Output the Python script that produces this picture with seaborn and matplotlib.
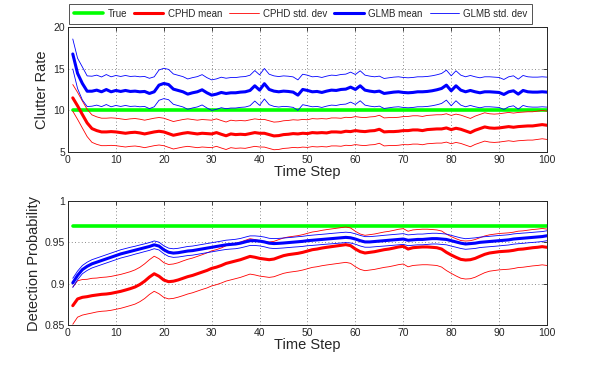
import numpy as np
import pandas as pd
import matplotlib
matplotlib.use("Agg")
import matplotlib.pyplot as plt
import seaborn as sns
from matplotlib.lines import Line2D

# ---------------- data ----------------
time_steps = list(range(1, 101))

true_clutter = 10.0
true_pd = 0.97

clutter_glmb_mean = [
    16.77, 14.44, 13.23, 12.30, 12.30, 12.43, 12.23, 12.50, 12.23, 12.39,
    12.27, 12.39, 12.27, 12.31, 12.23, 12.27, 12.03, 12.23, 13.03, 13.23,
    13.10, 12.55, 12.39, 12.23, 11.95, 12.11, 12.23, 12.47, 12.11, 11.83,
    11.95, 12.15, 12.03, 12.11, 12.11, 12.19, 12.23, 12.39, 12.95, 12.43,
    13.20, 12.51, 12.31, 12.23, 12.31, 12.27, 12.19, 11.83, 12.51, 12.39,
    12.23, 12.27, 12.15, 12.31, 12.43, 12.39, 12.51, 12.55, 12.79, 12.51,
    12.95, 12.43, 12.31, 12.23, 12.31, 12.03, 12.11, 12.19, 12.23, 12.15,
    12.11, 12.15, 12.23, 12.23, 12.27, 12.35, 12.47, 12.63, 13.03, 12.35,
    12.95, 12.43, 12.23, 12.39, 12.23, 12.11, 12.23, 12.23, 12.19, 12.15,
    11.91, 12.23, 12.35, 11.95, 12.39, 12.23, 12.19, 12.19, 12.23, 12.19]
clutter_glmb_std = [
    1.80, 1.82, 1.98, 1.84, 1.80, 1.80, 1.78, 1.80, 1.80, 1.80,
    1.80, 1.80, 1.80, 1.80, 1.80, 1.80, 1.82, 1.80, 1.82, 1.82,
    1.82, 1.82, 1.82, 1.82, 1.82, 1.82, 1.82, 1.82, 1.82, 1.83,
    1.83, 1.83, 1.83, 1.83, 1.83, 1.83, 1.83, 1.83, 1.83, 1.83,
    1.83, 1.83, 1.83, 1.83, 1.83, 1.83, 1.83, 1.83, 1.83, 1.83,
    1.80, 1.80, 1.80, 1.80, 1.80, 1.80, 1.80, 1.80, 1.80, 1.80,
    1.80, 1.80, 1.80, 1.80, 1.80, 1.80, 1.80, 1.80, 1.80, 1.80,
    1.80, 1.80, 1.80, 1.80, 1.80, 1.80, 1.80, 1.80, 1.80, 1.80,
    1.80, 1.80, 1.80, 1.80, 1.80, 1.80, 1.80, 1.80, 1.80, 1.80,
    1.80, 1.80, 1.80, 1.80, 1.80, 1.80, 1.80, 1.80, 1.80, 1.80]

clutter_cphd_mean = [
    11.50, 10.54, 9.50, 8.49, 7.81, 7.57, 7.41, 7.41, 7.45, 7.41,
    7.33, 7.25, 7.33, 7.37, 7.29, 7.17, 7.29, 7.41, 7.49, 7.41,
    7.21, 7.01, 7.13, 7.25, 7.33, 7.25, 7.17, 7.25, 7.21, 7.17,
    7.33, 7.13, 6.95, 7.17, 7.09, 7.13, 7.09, 7.21, 7.33, 7.25,
    7.25, 7.09, 6.93, 6.97, 7.09, 7.13, 7.21, 7.17, 7.25, 7.21,
    7.33, 7.29, 7.33, 7.29, 7.41, 7.41, 7.37, 7.49, 7.45, 7.57,
    7.49, 7.45, 7.53, 7.57, 7.73, 7.41, 7.45, 7.45, 7.49, 7.57,
    7.57, 7.65, 7.65, 7.57, 7.69, 7.73, 7.77, 7.77, 7.89, 7.69,
    7.85, 7.73, 7.53, 7.33, 7.61, 7.81, 8.01, 7.89, 7.85, 7.89,
    7.97, 8.05, 7.97, 8.05, 8.09, 8.13, 8.13, 8.21, 8.29, 8.21]
clutter_cphd_std = [
    1.60, 1.62, 1.62, 1.64, 1.65, 1.65, 1.65, 1.65, 1.65, 1.65,
    1.65, 1.65, 1.65, 1.65, 1.65, 1.65, 1.65, 1.65, 1.65, 1.65,
    1.65, 1.65, 1.65, 1.65, 1.65, 1.65, 1.65, 1.65, 1.65, 1.65,
    1.65, 1.65, 1.65, 1.65, 1.65, 1.65, 1.65, 1.65, 1.65, 1.65,
    1.66, 1.66, 1.66, 1.66, 1.66, 1.66, 1.66, 1.66, 1.66, 1.66,
    1.68, 1.68, 1.68, 1.68, 1.68, 1.68, 1.68, 1.68, 1.68, 1.68,
    1.68, 1.68, 1.68, 1.68, 1.68, 1.68, 1.68, 1.68, 1.68, 1.68,
    1.70, 1.70, 1.70, 1.70, 1.70, 1.70, 1.70, 1.70, 1.70, 1.70,
    1.70, 1.70, 1.70, 1.70, 1.70, 1.70, 1.70, 1.70, 1.70, 1.70,
    1.70, 1.70, 1.70, 1.70, 1.70, 1.70, 1.70, 1.70, 1.70, 1.70]

pd_glmb_mean = [
    0.9010, 0.9100, 0.9170, 0.9210, 0.9240, 0.9260, 0.9280, 0.9300, 0.9320, 0.9340,
    0.9360, 0.9375, 0.9390, 0.9405, 0.9420, 0.9435, 0.9450, 0.9470, 0.9455, 0.9410,
    0.9380, 0.9370, 0.9375, 0.9385, 0.9395, 0.9400, 0.9410, 0.9420, 0.9430, 0.9440,
    0.9450, 0.9460, 0.9470, 0.9475, 0.9480, 0.9490, 0.9505, 0.9520, 0.9520, 0.9515,
    0.9505, 0.9490, 0.9485, 0.9488, 0.9492, 0.9497, 0.9502, 0.9507, 0.9512, 0.9520,
    0.9525, 0.9530, 0.9535, 0.9540, 0.9545, 0.9550, 0.9555, 0.9560, 0.9555, 0.9540,
    0.9520, 0.9505, 0.9505, 0.9510, 0.9515, 0.9520, 0.9525, 0.9530, 0.9535, 0.9540,
    0.9525, 0.9530, 0.9535, 0.9535, 0.9540, 0.9545, 0.9545, 0.9540, 0.9535, 0.9520,
    0.9505, 0.9490, 0.9480, 0.9485, 0.9490, 0.9500, 0.9505, 0.9510, 0.9515, 0.9520,
    0.9525, 0.9530, 0.9540, 0.9545, 0.9550, 0.9555, 0.9560, 0.9565, 0.9570, 0.9580]
pd_glmb_std = [
    0.0055, 0.0052, 0.0050, 0.0050, 0.0050, 0.0050, 0.0050, 0.0050, 0.0050, 0.0050,
    0.0050, 0.0050, 0.0050, 0.0048, 0.0048, 0.0047, 0.0047, 0.0047, 0.0047, 0.0048,
    0.0050, 0.0052, 0.0053, 0.0054, 0.0055, 0.0055, 0.0055, 0.0055, 0.0055, 0.0055,
    0.0055, 0.0055, 0.0056, 0.0056, 0.0057, 0.0057, 0.0058, 0.0058, 0.0058, 0.0058,
    0.0059, 0.0059, 0.0060, 0.0060, 0.0060, 0.0060, 0.0060, 0.0061, 0.0061, 0.0061,
    0.0062, 0.0062, 0.0062, 0.0062, 0.0063, 0.0063, 0.0063, 0.0063, 0.0063, 0.0063,
    0.0064, 0.0064, 0.0064, 0.0064, 0.0064, 0.0065, 0.0065, 0.0065, 0.0065, 0.0065,
    0.0065, 0.0065, 0.0065, 0.0065, 0.0065, 0.0065, 0.0065, 0.0065, 0.0065, 0.0065,
    0.0064, 0.0064, 0.0064, 0.0064, 0.0064, 0.0063, 0.0063, 0.0063, 0.0063, 0.0063,
    0.0062, 0.0062, 0.0062, 0.0062, 0.0062, 0.0061, 0.0061, 0.0061, 0.0060, 0.0060]

pd_cphd_mean = [
    0.8734, 0.8815, 0.8835, 0.8843, 0.8855, 0.8863, 0.8871, 0.8875, 0.8883, 0.8895,
    0.8907, 0.8923, 0.8940, 0.8960, 0.8990, 0.9030, 0.9080, 0.9120, 0.9090, 0.9044,
    0.9024, 0.9030, 0.9045, 0.9065, 0.9085, 0.9100, 0.9120, 0.9140, 0.9160, 0.9185,
    0.9200, 0.9220, 0.9245, 0.9260, 0.9275, 0.9290, 0.9310, 0.9330, 0.9320, 0.9306,
    0.9298, 0.9290, 0.9298, 0.9319, 0.9339, 0.9351, 0.9359, 0.9367, 0.9379, 0.9395,
    0.9411, 0.9419, 0.9431, 0.9440, 0.9448, 0.9456, 0.9464, 0.9472, 0.9460, 0.9419,
    0.9387, 0.9371, 0.9379, 0.9387, 0.9399, 0.9411, 0.9419, 0.9431, 0.9444, 0.9452,
    0.9419, 0.9435, 0.9440, 0.9444, 0.9444, 0.9440, 0.9435, 0.9419, 0.9379, 0.9347,
    0.9319, 0.9294, 0.9286, 0.9290, 0.9306, 0.9331, 0.9355, 0.9371, 0.9379, 0.9387,
    0.9391, 0.9395, 0.9403, 0.9415, 0.9419, 0.9427, 0.9435, 0.9440, 0.9448, 0.9440]
pd_cphd_std = [
    0.0225, 0.0220, 0.0215, 0.0210, 0.0210, 0.0205, 0.0205, 0.0205, 0.0205, 0.0205,
    0.0205, 0.0205, 0.0205, 0.0207, 0.0208, 0.0210, 0.0210, 0.0212, 0.0212, 0.0210,
    0.0208, 0.0208, 0.0208, 0.0210, 0.0210, 0.0210, 0.0210, 0.0210, 0.0212, 0.0212,
    0.0212, 0.0212, 0.0214, 0.0214, 0.0214, 0.0214, 0.0214, 0.0214, 0.0214, 0.0214,
    0.0214, 0.0214, 0.0214, 0.0214, 0.0214, 0.0214, 0.0214, 0.0214, 0.0214, 0.0214,
    0.0214, 0.0214, 0.0214, 0.0214, 0.0214, 0.0214, 0.0214, 0.0214, 0.0214, 0.0214,
    0.0214, 0.0214, 0.0214, 0.0214, 0.0214, 0.0214, 0.0214, 0.0214, 0.0214, 0.0214,
    0.0215, 0.0215, 0.0215, 0.0215, 0.0215, 0.0215, 0.0215, 0.0218, 0.0220, 0.0222,
    0.0225, 0.0228, 0.0230, 0.0230, 0.0228, 0.0225, 0.0222, 0.0220, 0.0220, 0.0220,
    0.0220, 0.0220, 0.0220, 0.0220, 0.0220, 0.0220, 0.0220, 0.0220, 0.0220, 0.0220]

legend_labels = ["True", "CPHD mean", "CPHD std. dev", "GLMB mean", "GLMB std. dev"]

# ---------------- style ----------------
sns.set_style("white")
plt.rcParams["font.family"] = ["Liberation Sans", "DejaVu Sans"]

RED = "#ff0000"
BLUE = "#0000ff"
GREEN = "#00ff00"
THICK = 2.2
THIN = 0.6

fig = plt.figure(figsize=(5.98, 3.66), dpi=100)
ax1 = fig.add_axes([0.1137, 0.5847, 0.801, 0.3413])
ax2 = fig.add_axes([0.1137, 0.1120, 0.801, 0.3388])

t = np.array(time_steps)


def draw_panel(ax, true_val, cphd_m, cphd_s, glmb_m, glmb_s):
    cphd_m = np.array(cphd_m); cphd_s = np.array(cphd_s)
    glmb_m = np.array(glmb_m); glmb_s = np.array(glmb_s)
    sns.lineplot(x=t, y=np.full(len(t), true_val), ax=ax, color=GREEN, lw=2.6, zorder=3)
    sns.lineplot(x=t, y=cphd_m, ax=ax, color=RED, lw=THICK, zorder=4)
    sns.lineplot(x=t, y=cphd_m + cphd_s, ax=ax, color=RED, lw=THIN, zorder=4)
    sns.lineplot(x=t, y=cphd_m - cphd_s, ax=ax, color=RED, lw=THIN, zorder=4)
    sns.lineplot(x=t, y=glmb_m, ax=ax, color=BLUE, lw=THICK, zorder=5)
    sns.lineplot(x=t, y=glmb_m + glmb_s, ax=ax, color=BLUE, lw=THIN, zorder=5)
    sns.lineplot(x=t, y=glmb_m - glmb_s, ax=ax, color=BLUE, lw=THIN, zorder=5)
    ax.set_xlim(0, 100)
    ax.set_xticks(range(0, 101, 10))
    ax.grid(True, linestyle=(0, (1, 3)), color="#666666", lw=0.6)
    ax.set_axisbelow(True)
    ax.tick_params(direction="in", length=3, width=0.6, labelsize=7.5,
                   top=True, right=True, pad=2, colors="#262626")
    for sp in ax.spines.values():
        sp.set_color("#262626")
        sp.set_linewidth(0.7)
    ax.set_xlabel("Time Step", fontsize=10.5, labelpad=0)


draw_panel(ax1, true_clutter, clutter_cphd_mean, clutter_cphd_std,
           clutter_glmb_mean, clutter_glmb_std)
ax1.set_ylim(5, 20)
ax1.set_yticks([5, 10, 15, 20])
ax1.set_ylabel("Clutter Rate", fontsize=10.5, labelpad=3)

draw_panel(ax2, true_pd, pd_cphd_mean, pd_cphd_std, pd_glmb_mean, pd_glmb_std)
ax2.set_ylim(0.85, 1.0)
ax2.set_yticks([0.85, 0.9, 0.95, 1.0])
ax2.set_yticklabels(["0.85", "0.9", "0.95", "1"])
ax2.set_ylabel("Detection Probability", fontsize=10.5, labelpad=3)

handles = [
    Line2D([], [], color=GREEN, lw=2.6),
    Line2D([], [], color=RED, lw=THICK),
    Line2D([], [], color=RED, lw=THIN),
    Line2D([], [], color=BLUE, lw=THICK),
    Line2D([], [], color=BLUE, lw=THIN),
]
leg = fig.legend(handles, legend_labels, ncol=5, loc="upper left",
                 bbox_to_anchor=(0.1154, 0.989),
                 fontsize=7.0, frameon=True, fancybox=False, borderaxespad=0,
                 handlelength=3.0, handletextpad=0.45, columnspacing=0.75,
                 borderpad=0.5)
leg.get_frame().set_edgecolor("#262626")
leg.get_frame().set_linewidth(0.7)

fig.savefig("out.png", dpi=100)
